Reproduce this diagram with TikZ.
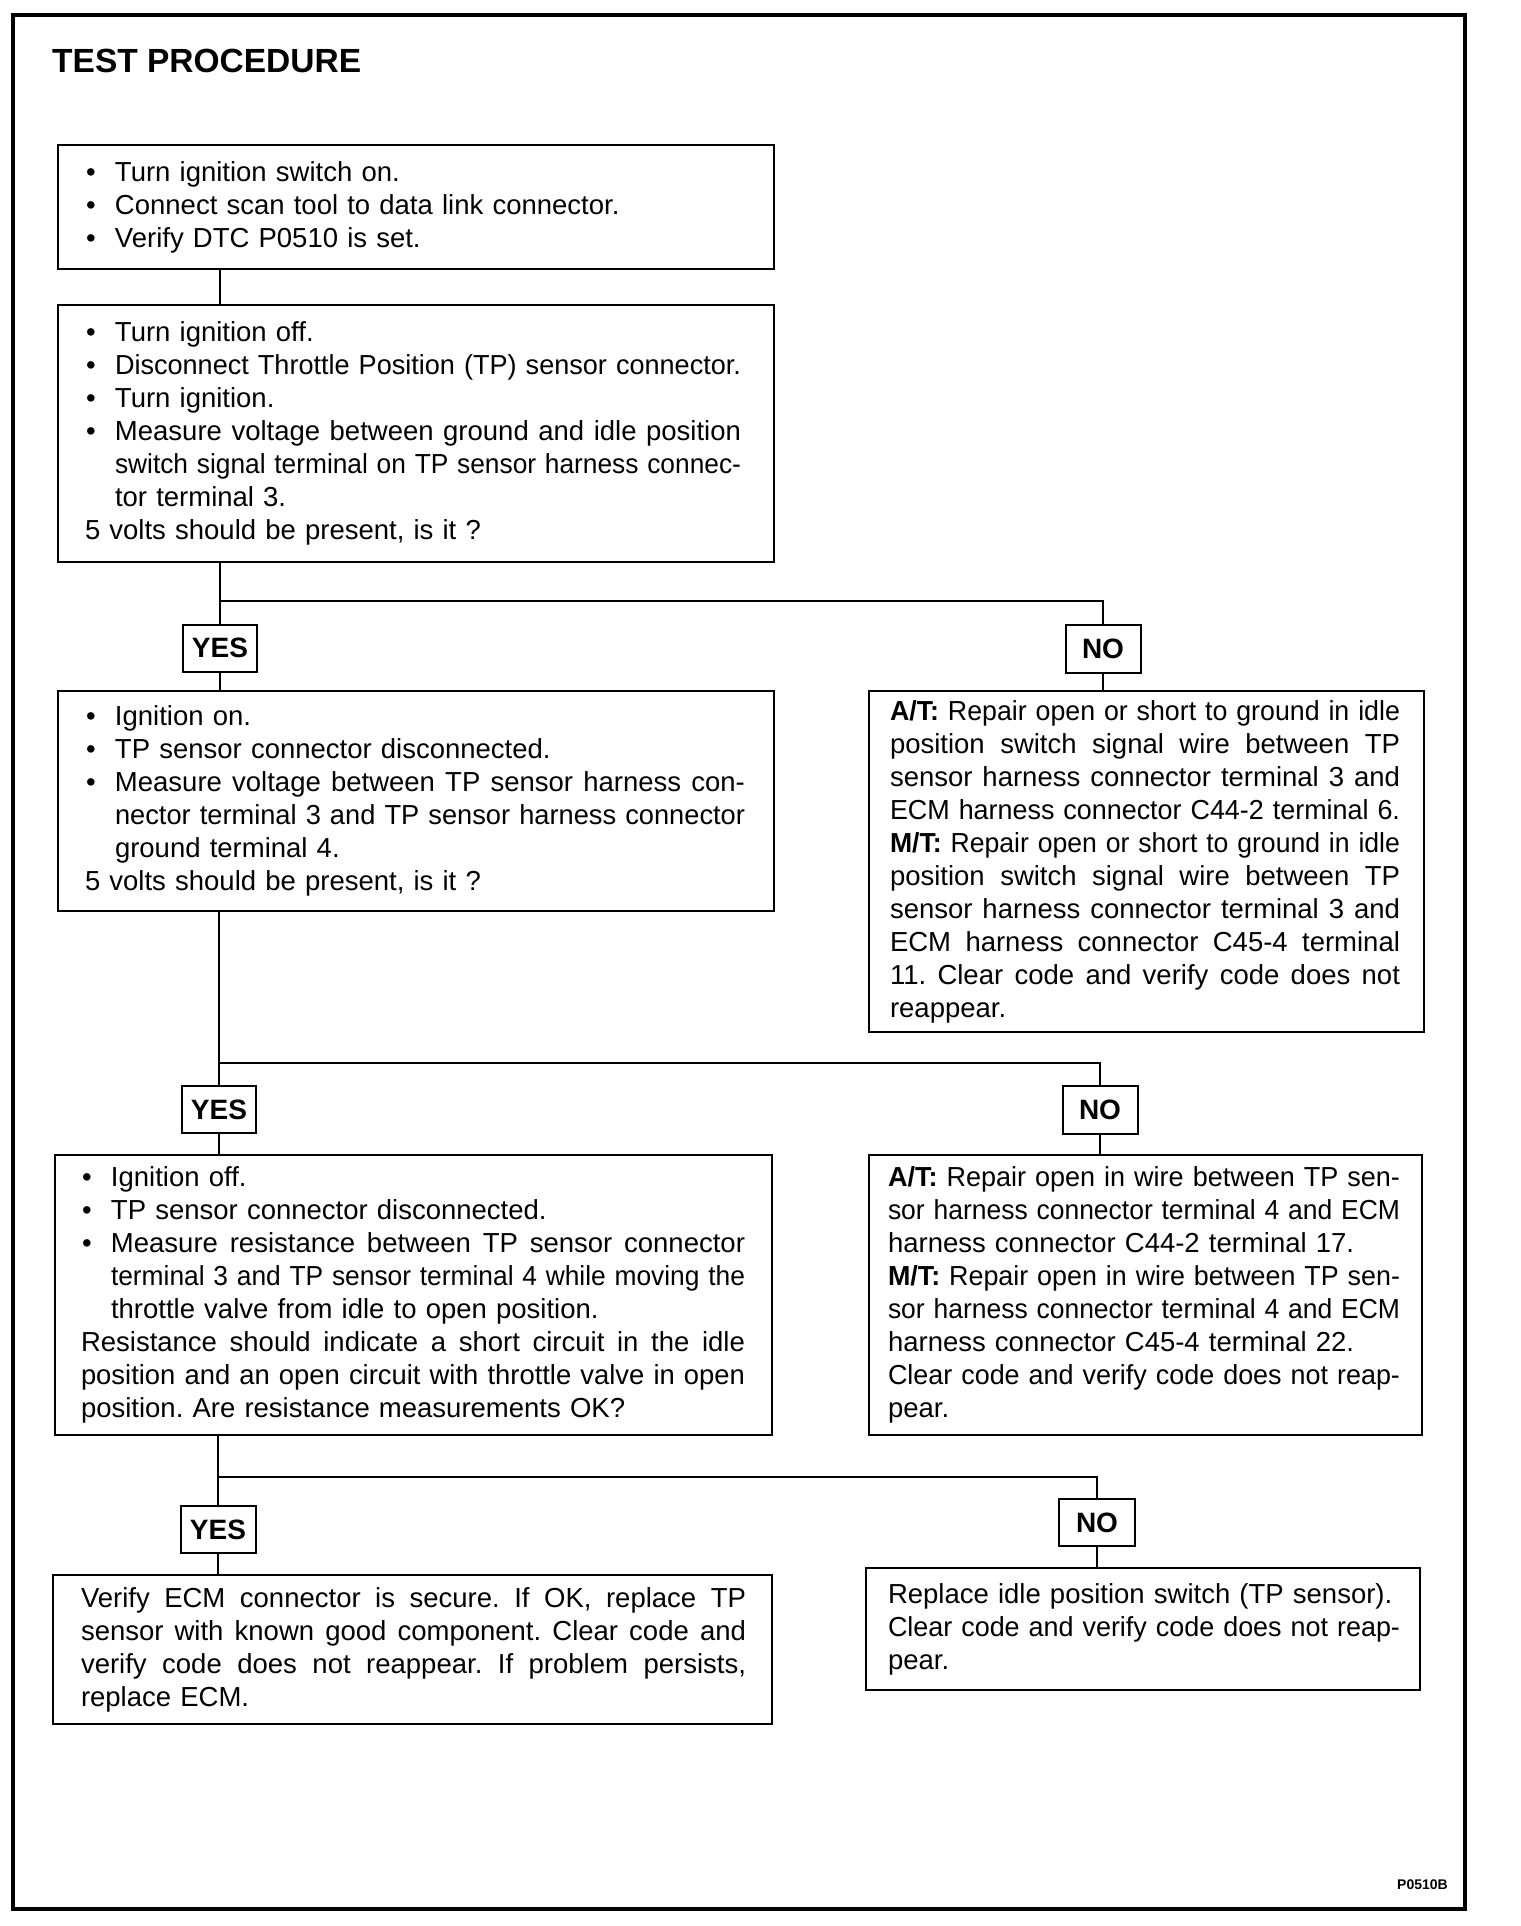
\documentclass[tikz,border=0pt]{standalone}
\usepackage{fontspec}
\setmainfont{Liberation Sans}
\usepackage{graphicx}
\frenchspacing
\newlength\bi \setlength\bi{30pt}
\newlength\fw
\newlength\jw
\newcommand\B{\makebox[\bi][l]{\hspace{1pt}\textbullet}}
\newcommand\I{\hspace*{\bi}}
\newcommand\J[2]{\leavevmode\setlength\jw{#1}\settowidth\fw{#2}%
 \ifdim\fw>\jw\resizebox{\jw}{\height}{#2}%
 \else\hbox to \jw{\spaceskip=\fontdimen2\font plus 1fil\relax #2}\fi}
\newcommand\bodyfont{\fontsize{27.5pt}{33pt}\selectfont\frenchspacing}
\newcommand\ynfont{\fontsize{28pt}{30pt}\selectfont\bfseries}
\newcommand\ttlfont{\fontsize{33.5pt}{38pt}\selectfont\bfseries}
\tikzset{
 box/.style={draw, line width=1.6pt, anchor=north west, inner ysep=0pt, outer sep=0pt, align=left, font=\bodyfont},
 yn/.style={draw, line width=2pt, minimum width=74pt, minimum height=47pt, inner sep=0pt, outer sep=0pt, font=\ynfont},
 conn/.style={line width=2.6pt},
 frame/.style={line width=4pt}
}
\begin{document}
\begin{tikzpicture}[x=1pt,y=-1pt]
\fill[white] (0,0) rectangle (1520,1926);
\useasboundingbox (0,0) rectangle (1520,1926);
\draw[frame] (13,15) rectangle (1465,1909);
\node[anchor=base west, font=\ttlfont, inner sep=0pt] (title) at (52,73) {TEST PROCEDURE};
\node[anchor=base east, font=\fontsize{14pt}{16pt}\selectfont\bfseries, inner sep=0pt] (code) at (1448,1889) {P0510B};

% left column
\node[box, text width=662pt, inner xsep=27pt, minimum width=716pt, minimum height=124pt] (b1) at (58,145) {%
\B Turn ignition switch on.\\
\B Connect scan tool to data link connector.\\
\B Verify DTC P0510 is set.};

\node[box, text width=662pt, inner xsep=27pt, minimum width=716pt, minimum height=257pt] (b2) at (58,305) {%
\B Turn ignition off.\\
\B\J{\dimexpr656pt-\bi\relax}{Disconnect Throttle Position (TP) sensor connector.}\\
\B Turn ignition.\\
\B\J{\dimexpr656pt-\bi\relax}{Measure voltage between ground and idle position}\\
\I\J{\dimexpr656pt-\bi\relax}{switch signal terminal on TP sensor harness connec-}\\
\I tor terminal 3.\\
5 volts should be present, is it ?};

\node[box, text width=662pt, inner xsep=27pt, minimum width=716pt, minimum height=220pt] (b3) at (58,691) {%
\B Ignition on.\\
\B TP sensor connector disconnected.\\
\B\J{\dimexpr660pt-\bi\relax}{Measure voltage between TP sensor harness con-}\\
\I\J{\dimexpr660pt-\bi\relax}{nector terminal 3 and TP sensor harness connector}\\
\I ground terminal 4.\\
5 volts should be present, is it ?};

\node[box, text width=665pt, inner xsep=26pt, minimum width=717pt, minimum height=280pt] (b4) at (55,1155) {%
\B Ignition off.\\
\B TP sensor connector disconnected.\\
\B\J{\dimexpr664pt-\bi\relax}{Measure resistance between TP sensor connector}\\
\I\J{\dimexpr664pt-\bi\relax}{terminal 3 and TP sensor terminal 4 while moving the}\\
\I throttle valve from idle to open position.\\
\J{664pt}{Resistance should indicate a short circuit in the idle}\\
\J{664pt}{position and an open circuit with throttle valve in open}\\
position. Are resistance measurements OK?};

\node[box, text width=663pt, inner xsep=28pt, minimum width=719pt, minimum height=149pt] (b5) at (53,1575) {%
\J{665pt}{Verify ECM connector is secure. If OK, replace TP}\\
\J{665pt}{sensor with known good component. Clear code and}\\
\J{665pt}{verify code does not reappear. If problem persists,}\\
replace ECM.};

% right column
\node[box, text width=513pt, inner xsep=21pt, minimum width=555pt, minimum height=341pt] (n1) at (869,691) {%
\J{510pt}{\textbf{A/T:} Repair open or short to ground in idle}\\
\J{510pt}{position switch signal wire between TP}\\
\J{510pt}{sensor harness connector terminal 3 and}\\
\J{510pt}{ECM harness connector C44-2 terminal 6.}\\
\J{510pt}{\textbf{M/T:} Repair open or short to ground in idle}\\
\J{510pt}{position switch signal wire between TP}\\
\J{510pt}{sensor harness connector terminal 3 and}\\
\J{510pt}{ECM harness connector C45-4 terminal}\\
\J{510pt}{11. Clear code and verify code does not}\\
reappear.};

\node[box, text width=515pt, inner xsep=19pt, minimum width=553pt, minimum height=280pt] (n2) at (869,1155) {%
\J{512pt}{\textbf{A/T:} Repair open in wire between TP sen-}\\
\J{512pt}{sor harness connector terminal 4 and ECM}\\
harness connector C44-2 terminal 17.\\
\J{512pt}{\textbf{M/T:} Repair open in wire between TP sen-}\\
\J{512pt}{sor harness connector terminal 4 and ECM}\\
harness connector C45-4 terminal 22.\\
\J{512pt}{Clear code and verify code does not reap-}\\
pear.};

\node[box, text width=510pt, inner xsep=22pt, minimum width=554pt, minimum height=122pt] (n3) at (866,1568) {%
Replace idle position switch (TP sensor).\\
\J{512pt}{Clear code and verify code does not reap-}\\
pear.};

% yes / no labels
\node[yn] (yes1) at (220,648) {YES};
\node[yn, minimum width=75pt, minimum height=48pt] (no1) at (1103,649) {NO};
\node[yn] (yes2) at (219,1109.5) {YES};
\node[yn, minimum width=75pt, minimum height=48pt] (no2) at (1100,1110) {NO};
\node[yn, minimum width=75pt] (yes3) at (218,1529.5) {YES};
\node[yn, minimum width=76pt] (no3) at (1097,1522.5) {NO};

\coordinate (j1) at (220,601);
\coordinate (j2) at (219,1063);
\coordinate (j3) at (218,1477);

% connectors
\draw[conn] (b1.south -| yes1) -- (b2.north -| yes1);
\draw[conn] (b2.south -| yes1) -- (yes1.north);
\draw[conn] (j1) -| (no1.north);
\draw[conn] (yes1.south) -- (b3.north -| yes1);
\draw[conn] (no1.south) -- (n1.north -| no1);

\draw[conn] (b3.south -| yes2) -- (yes2.north);
\draw[conn] (j2) -| (no2.north);
\draw[conn] (yes2.south) -- (b4.north -| yes2);
\draw[conn] (no2.south) -- (n2.north -| no2);

\draw[conn] (b4.south -| yes3) -- (yes3.north);
\draw[conn] (j3) -| (no3.north);
\draw[conn] (yes3.south) -- (b5.north -| yes3);
\draw[conn] (no3.south) -- (n3.north -| no3);
\end{tikzpicture}
\end{document}
